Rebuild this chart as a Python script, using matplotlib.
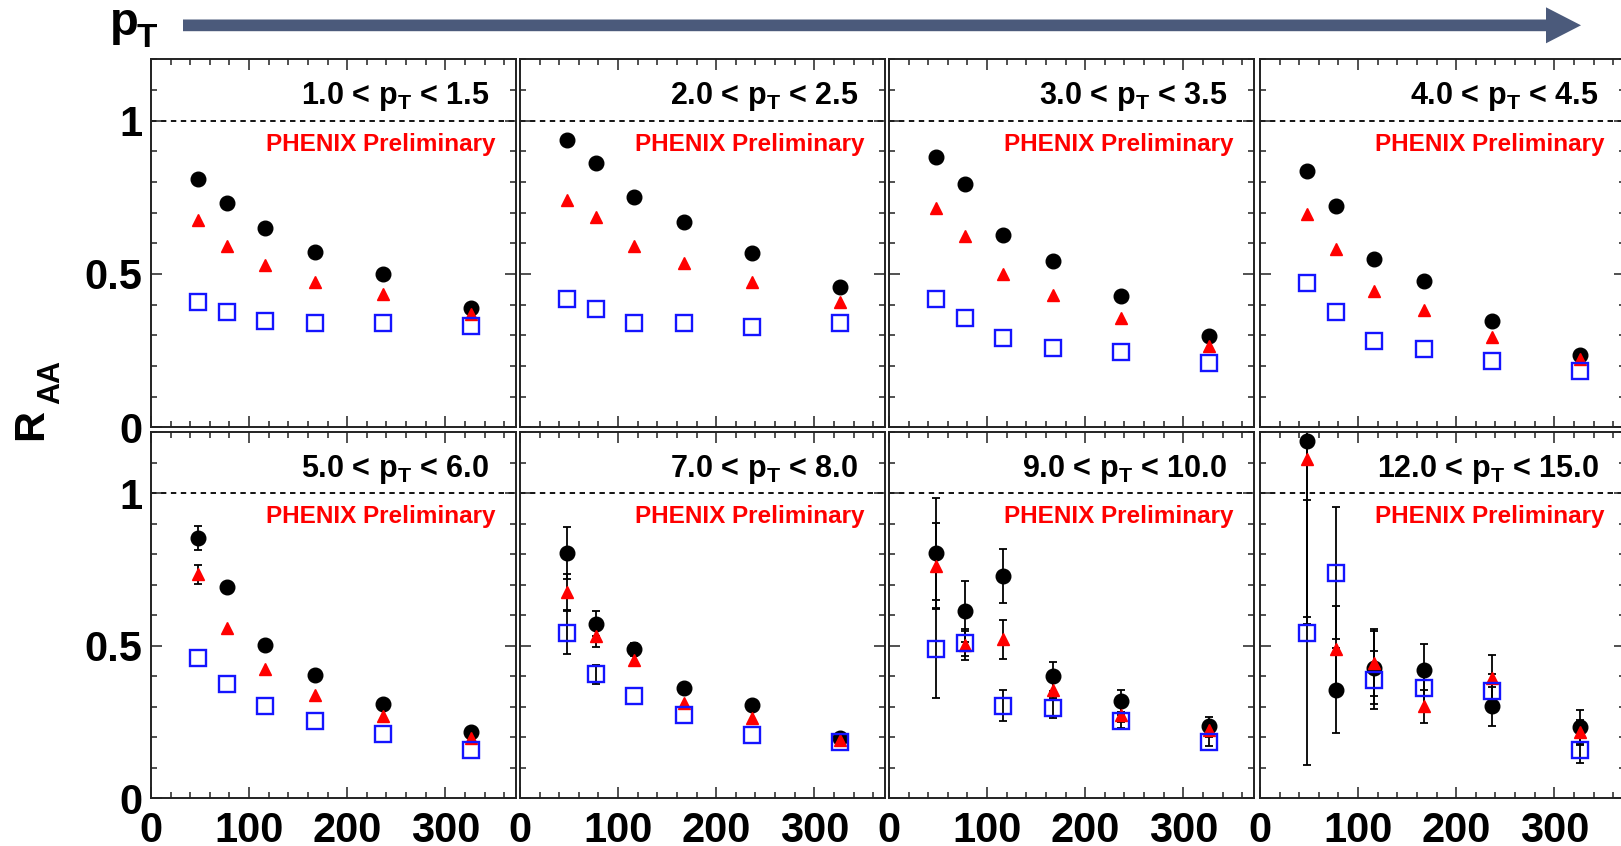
import matplotlib
matplotlib.use("Agg")
import matplotlib.pyplot as plt
from matplotlib.patches import Polygon
from matplotlib.ticker import MultipleLocator
import numpy as np

plt.rcParams['font.family'] = ['Liberation Sans Narrow', 'Liberation Sans', 'DejaVu Sans']
plt.rcParams['font.weight'] = 'bold'
plt.rcParams['mathtext.default'] = 'regular'

# centrality points (Npart)
npart = [48, 77, 116, 167, 236, 326]

pt_bins = ["1.0 < p$_{T}$ < 1.5", "2.0 < p$_{T}$ < 2.5", "3.0 < p$_{T}$ < 3.5", "4.0 < p$_{T}$ < 4.5",
           "5.0 < p$_{T}$ < 6.0", "7.0 < p$_{T}$ < 8.0", "9.0 < p$_{T}$ < 10.0", "12.0 < p$_{T}$ < 15.0"]

# black circles
raa_black = [
    [0.81, 0.73, 0.65, 0.57, 0.50, 0.39],
    [0.937, 0.863, 0.752, 0.671, 0.567, 0.456],
    [0.880, 0.792, 0.627, 0.543, 0.429, 0.297],
    [0.835, 0.720, 0.548, 0.477, 0.347, 0.235],
    [0.853, 0.693, 0.503, 0.403, 0.310, 0.217],
    [0.803, 0.573, 0.488, 0.362, 0.305, 0.197],
    [0.804, 0.614, 0.729, 0.400, 0.318, 0.238],
    [1.173, 0.354, 0.428, 0.420, 0.301, 0.234],
]
err_black = [
    [0] * 6, [0] * 6, [0] * 6, [0] * 6,
    [0.04, 0.015, 0, 0, 0, 0],
    [0.085, 0.04, 0.02, 0, 0, 0],
    [0.18, 0.10, 0.09, 0.048, 0.036, 0.03],
    [0.60, 0.14, 0.12, 0.085, 0.065, 0.055],
]
# red triangles
raa_red = [
    [0.675, 0.59, 0.53, 0.475, 0.435, 0.37],
    [0.742, 0.685, 0.590, 0.537, 0.473, 0.409],
    [0.715, 0.624, 0.499, 0.432, 0.355, 0.264],
    [0.697, 0.582, 0.445, 0.382, 0.293, 0.222],
    [0.734, 0.559, 0.424, 0.340, 0.271, 0.197],
    [0.676, 0.532, 0.455, 0.312, 0.263, 0.192],
    [0.762, 0.504, 0.521, 0.356, 0.274, 0.225],
    [1.113, 0.490, 0.444, 0.301, 0.395, 0.216],
]
err_red = [
    [0] * 6, [0] * 6, [0] * 6, [0] * 6,
    [0.03, 0, 0, 0, 0, 0],
    [0.06, 0.035, 0, 0, 0, 0],
    [0.14, 0.05, 0.065, 0.03, 0.025, 0.02],
    [0.52, 0.14, 0.11, 0.055, 0.075, 0.04],
]
# blue open squares
raa_blue = [
    [0.41, 0.375, 0.345, 0.339, 0.339, 0.331],
    [0.419, 0.385, 0.341, 0.341, 0.328, 0.341],
    [0.419, 0.355, 0.291, 0.260, 0.247, 0.210],
    [0.470, 0.375, 0.283, 0.254, 0.217, 0.182],
    [0.461, 0.375, 0.304, 0.252, 0.211, 0.157],
    [0.543, 0.406, 0.334, 0.274, 0.208, 0.186],
    [0.490, 0.508, 0.304, 0.296, 0.252, 0.186],
    [0.543, 0.738, 0.389, 0.362, 0.351, 0.159],
]
err_blue = [
    [0] * 6, [0] * 6, [0] * 6, [0] * 6,
    [0] * 6,
    [0.07, 0.03, 0, 0, 0, 0],
    [0.16, 0.04, 0.05, 0.032, 0.02, 0.015],
    [0.435, 0.216, 0.095, 0.07, 0.055, 0.042],
]


def draw_series(ax, y, err, **kw):
    x = np.array(npart)
    y = np.array(y)
    err = np.array(err)
    has = err > 0
    if has.any():
        ax.errorbar(x[has], y[has], yerr=err[has], fmt='none', ecolor='black',
                    elinewidth=1.3, capsize=3, capthick=1.3, zorder=2)
    ax.plot(x, y, ls='none', **kw)


W, H = 1621, 846
fig = plt.figure(figsize=(W / 100, H / 100), dpi=100)

col_left = [151, 520, 889, 1260]
row_top = [59.3, 432.3]
row_h = [368, 366]
pw = 365

for i in range(8):
    r, c = divmod(i, 4)
    ax = fig.add_axes([col_left[c] / W, 1 - (row_top[r] + row_h[r]) / H, pw / W, row_h[r] / H])
    ax.set_xlim(0, 372)
    ax.set_ylim(0, 1.2)
    ax.axhline(1.0, color='black', ls=(0, (3, 2.5)), lw=1.3, zorder=1)

    draw_series(ax, raa_black[i], err_black[i], marker='o', color='black', ms=10.5, zorder=3)
    draw_series(ax, raa_red[i], err_red[i], marker='^', color='#ff0000', ms=9, zorder=4)
    draw_series(ax, raa_blue[i], err_blue[i], marker='s', color='#1414ff', ms=11,
                mfc='none', mew=1.7, zorder=5)

    ax.xaxis.set_major_locator(MultipleLocator(100))
    ax.xaxis.set_minor_locator(MultipleLocator(20))
    ax.yaxis.set_major_locator(MultipleLocator(0.5))
    ax.yaxis.set_minor_locator(MultipleLocator(0.1))
    ax.tick_params(which='both', direction='in', top=True, right=True, width=1.1, colors='#222222')
    ax.tick_params(which='major', length=8)
    ax.tick_params(which='minor', length=4.5)
    ax.tick_params(axis='both', labelsize=30, labelcolor='black')
    ax.tick_params(axis='x', pad=9)
    ax.tick_params(axis='y', pad=6)
    for s in ax.spines.values():
        s.set_linewidth(1.4)
        s.set_color('#222222')

    ax.set_yticks([0, 0.5, 1])
    ax.set_yticklabels(['0', '0.5', '1'])
    ax.set_xticks([0, 100, 200, 300])
    ax.set_xticklabels(['0', '100', '200', '300'])
    if c != 0:
        ax.tick_params(axis='y', labelleft=False)
    if r == 0:
        ax.tick_params(axis='x', labelbottom=False)
    for lab in ax.get_xticklabels() + ax.get_yticklabels():
        lab.set_fontweight('bold')

    ax.text(0.927, 0.879, pt_bins[i], transform=ax.transAxes, ha='right', va='baseline',
            fontsize=22, fontweight='bold', color='black')
    ax.text(0.945, 0.752, 'PHENIX Preliminary', transform=ax.transAxes, ha='right',
            va='baseline', fontsize=17.5, fontweight='bold', color='#ff0000')

# pT arrow across the top
arrow_px = [(183, 19.5), (1546, 19.5), (1546, 7.3), (1581, 25.3), (1546, 43.3), (1546, 31.2), (183, 31.2)]
arrow = Polygon([(x / W, 1 - y / H) for x, y in arrow_px], closed=True,
                transform=fig.transFigure, facecolor='#4b5a7b', edgecolor='none')
fig.add_artist(arrow)

fig.text(110 / W, 1 - 35 / H, 'p', fontsize=34, fontweight='bold', family='Liberation Sans',
         ha='left', va='baseline')
fig.text(137 / W, 1 - 47 / H, 'T', fontsize=24, fontweight='bold', family='Liberation Sans',
         ha='left', va='baseline')

fig.text(31 / W, 1 - 424 / H, 'R', fontsize=31, fontweight='bold', family='Liberation Sans',
         rotation=90, ha='center', va='center')
fig.text(51 / W, 1 - 382 / H, 'AA', fontsize=22, fontweight='bold', family='Liberation Sans',
         rotation=90, ha='center', va='center')

fig.savefig('out.png', dpi=100)
